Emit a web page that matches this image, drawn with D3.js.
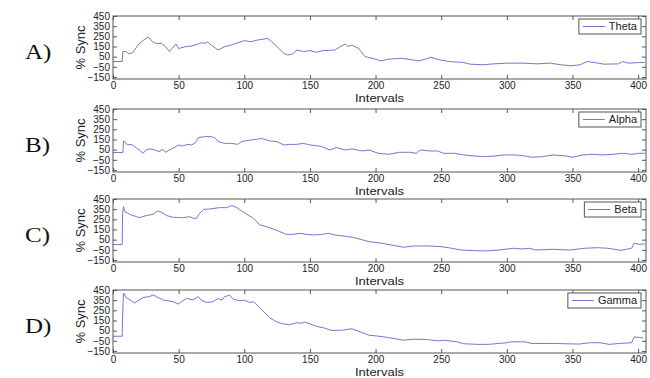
<!DOCTYPE html>
<html>
<head>
<meta charset="utf-8">
<script src="https://cdn.jsdelivr.net/npm/d3@7"></script>
<style>
  body { margin: 0; background: #fff; }
</style>
</head>
<body>
<script>
// values, [interval, % sync]
const theta = [[0,2],[7,2],[7.5,100],[10,100],[12,78],[15,90],[20,180],[25,229],[27,242],[30,197],[33,180],[37,180],[40,148],[43,100],[45,130],[48,174],[50,130],[55,148],[60,155],[65,174],[67,187],[70,180],[72,194],[75,164],[80,115],[85,148],[90,164],[95,187],[100,207],[105,197],[110,213],[115,223],[118,229],[120,207],[125,148],[130,83],[133,67],[137,77],[140,115],[145,100],[150,109],[155,93],[160,110],[165,112],[169,115],[174,155],[177,174],[179,150],[182,164],[187,132],[192,51],[200,25],[204,8],[210,25],[220,34],[228,18],[233,8],[238,25],[242,44],[249,18],[256,2],[267,-8],[272,-24],[282,-30],[290,-21],[300,-14],[313,-14],[323,-21],[333,-14],[341,-30],[349,-40],[356,-30],[361,2],[367,-8],[374,-24],[385,-21],[388,2],[393,-14],[401,-8],[405,-8]];

const alpha = [[0,22],[7.5,22],[8,135],[9,129],[11,96],[13,102],[15,96],[18,63],[20,47],[23,14],[25,47],[28,57],[32,47],[35,30],[38,53],[40,24],[43,47],[47,73],[50,96],[53,86],[57,102],[60,96],[63,122],[65,168],[70,178],[75,178],[78,161],[80,129],[85,112],[90,112],[95,102],[98,129],[100,135],[105,145],[110,152],[113,161],[117,145],[120,135],[125,129],[130,96],[135,102],[140,102],[145,112],[150,96],[155,89],[159,80],[165,47],[170,70],[177,47],[182,57],[190,37],[195,47],[202,14],[210,4],[218,24],[226,24],[231,14],[234,47],[241,37],[247,37],[252,14],[260,14],[267,-2],[275,-12],[283,-19],[291,-12],[298,-2],[306,-2],[314,-12],[319,-25],[327,-19],[335,-2],[345,-12],[350,-25],[358,-2],[365,4],[373,-2],[381,4],[389,14],[395,4],[401,14],[405,14]];

const beta = [[0,2],[7,2],[7.3,309],[8,375],[9,325],[12.7,299],[18,276],[20,266],[25,286],[30.5,299],[34,332],[37,319],[41,286],[46,270],[53,266],[58.5,276],[61,260],[63.6,260],[66,309],[69,348],[74,352],[81,365],[86.5,365],[90,384],[93,375],[97,342],[102,299],[107,260],[112,194],[117,178],[122,155],[127,129],[132,102],[137,102],[142.5,112],[147.6,102],[152.7,96],[158,100],[164,112],[169,96],[179,80],[184,70],[195,30],[205,14],[216,-12],[221,-25],[229,-12],[240,-12],[250,-19],[258,-35],[265,-52],[276,-58],[284,-61],[294,-52],[305,-35],[312,-42],[317,-35],[322,-52],[335,-45],[348,-52],[359,-35],[369,-29],[377,-35],[382,-45],[387,-55],[392,-42],[395,-35],[397,14],[401,4],[405,8]];

const gamma = [[0,-5],[7,-5],[7.3,200],[8,420],[9,400],[10,376],[14,344],[16.5,321],[19,344],[23,376],[28,385],[30.5,402],[33,385],[38,353],[42,344],[46,334],[49.6,311],[52,334],[56,366],[61,353],[65,385],[67,353],[71,327],[76,334],[80,366],[83,350],[85,385],[89,398],[91.5,360],[96.5,344],[100,350],[104,327],[107,334],[109,311],[114,247],[119,182],[124,140],[129,118],[134.5,108],[139.6,127],[143.5,124],[146,134],[150,118],[155,92],[161,76],[166,53],[174,53],[179,63],[182,69],[187,44],[195,5],[202.5,-5],[210,-18],[221,-44],[229,-34],[239,-37],[247,-50],[252,-44],[262,-60],[267,-79],[278,-85],[286,-85],[294,-76],[300,-69],[304,-60],[314,-60],[319,-76],[335,-76],[345,-79],[355,-82],[363,-69],[371,-69],[378,-85],[386,-76],[395,-69],[397,-11],[401,-18],[404,-21]];

const letters = ["A)", "B)", "C)", "D)"];
const bands = ["Theta", "Alpha", "Beta", "Gamma"];
const xTicks = [0, 50, 100, 150, 200, 250, 300, 350, 400];
const yTicks = [-150, -50, 50, 150, 250, 350, 450];

const series = [theta, alpha, beta, gamma];
const tops = [16, 109, 199, 290];

const width = 650, height = 378;
const left = 113, right = 646, panelH = 63;
const lineColor = "#7478d0";
const sans = "'Liberation Sans', Arial, sans-serif";
const serif = "'Liberation Serif', 'Times New Roman', serif";

const svg = d3.select("body").append("svg")
  .attr("width", width)
  .attr("height", height)
  .style("font-family", sans);

const x = d3.scaleLinear().domain([0, 406]).range([left, right]);

series.forEach((data, i) => {
  const top = tops[i];
  const y = d3.scaleLinear().domain([-170, 450]).range([top + panelH, top]);
  const g = svg.append("g");

  // line
  g.append("path")
    .datum(data)
    .attr("fill", "none")
    .attr("stroke", lineColor)
    .attr("stroke-width", 1)
    .attr("d", d3.line().x(d => x(d[0])).y(d => y(d[1])));

  // axes, ticks pointing inward like matlab
  const xb = g.append("g").attr("transform", `translate(0,${top + panelH})`)
    .call(d3.axisBottom(x).tickValues(xTicks).tickSizeInner(-4).tickSizeOuter(0).tickPadding(3));
  const xt = g.append("g").attr("transform", `translate(0,${top})`)
    .call(d3.axisTop(x).tickValues(xTicks).tickSizeInner(-4).tickSizeOuter(0).tickFormat(""));
  const yl = g.append("g").attr("transform", `translate(${left},0)`)
    .call(d3.axisLeft(y).tickValues(yTicks).tickSizeInner(-4).tickSizeOuter(0).tickPadding(3));
  const yr = g.append("g").attr("transform", `translate(${right},0)`)
    .call(d3.axisRight(y).tickValues(yTicks).tickSizeInner(-4).tickSizeOuter(0).tickFormat(""));

  [xb, xt, yl, yr].forEach(a => {
    a.select(".domain").remove();
    a.selectAll("line").attr("stroke", "#555");
    a.selectAll("text").attr("font-size", 10).attr("fill", "#222")
      .attr("font-family", sans);
  });

  g.append("rect")
    .attr("x", left).attr("y", top)
    .attr("width", right - left).attr("height", panelH)
    .attr("fill", "none").attr("stroke", "#555").attr("stroke-width", 1);

  // axis labels
  g.append("text")
    .attr("transform", `translate(${(left + right) / 2},${top + panelH + 23}) scale(1,0.85)`)
    .attr("text-anchor", "middle")
    .attr("font-size", 13)
    .attr("fill", "#222")
    .text("Intervals");

  g.append("text")
    .attr("transform", `translate(85,${top + panelH / 2}) rotate(-90)`)
    .attr("text-anchor", "middle")
    .attr("font-size", 13)
    .attr("fill", "#222")
    .text("% Sync");

  // panel letter
  g.append("text")
    .attr("transform", `translate(25,${top + 43}) scale(1,0.82)`)
    .style("font-family", serif)
    .attr("font-size", 25)
    .attr("fill", "#111")
    .text(letters[i]);

  // legend
  const lg = g.append("g");
  const lt = lg.append("text")
    .attr("font-size", 11)
    .attr("fill", "#222")
    .attr("y", top + 14)
    .text(bands[i]);
  const tw = lt.node().getComputedTextLength();
  const boxR = right - 5, boxW = tw + 34, boxL = boxR - boxW;
  lt.attr("x", boxL + 30);
  lg.insert("rect", "text")
    .attr("x", boxL).attr("y", top + 3)
    .attr("width", boxW).attr("height", 15)
    .attr("fill", "#fff").attr("stroke", "#555");
  lg.append("line")
    .attr("x1", boxL + 4).attr("x2", boxL + 26)
    .attr("y1", top + 10.5).attr("y2", top + 10.5)
    .attr("stroke", lineColor);
});
</script>
</body>
</html>
